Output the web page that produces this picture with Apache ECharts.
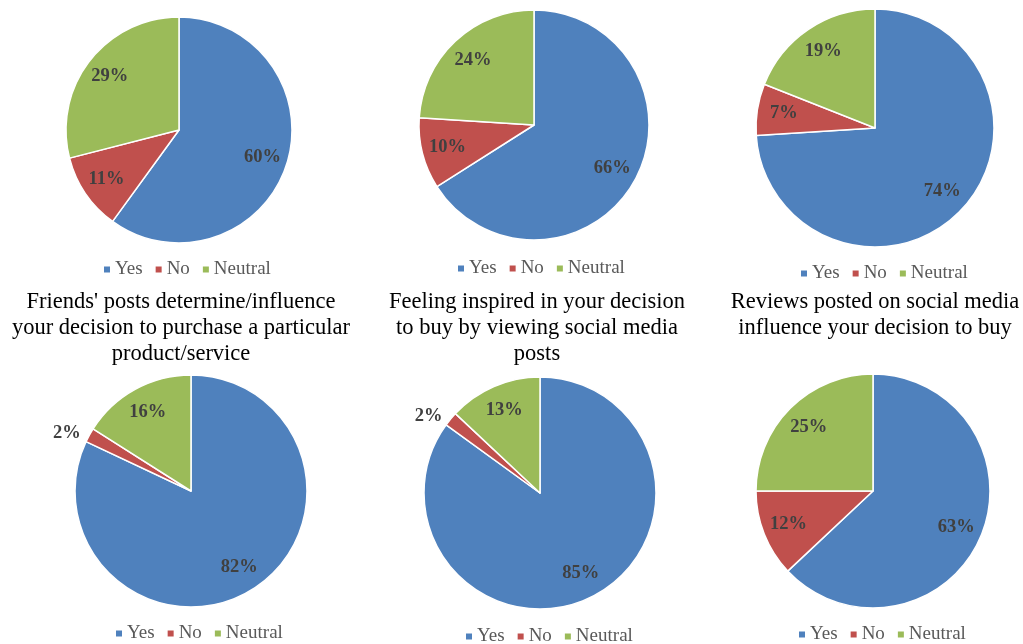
<!DOCTYPE html>
<html>
<head>
<meta charset="utf-8">
<script src="https://cdn.jsdelivr.net/npm/echarts@6/dist/echarts.min.js"></script>
<style>html,body{margin:0;padding:0;background:#fff}#c{width:1023px;height:644px}</style>
</head>
<body>
<div id="c"></div>
<script>
// ---- data ----
const categories = ['Yes', 'No', 'Neutral'];
const friendsPosts = [60, 11, 29];
const feelingInspired = [66, 10, 24];
const reviewsPosted = [74, 7, 19];
const pie4Values = [82, 2, 16];
const pie5Values = [85, 2, 13];
const pie6Values = [63, 12, 25];
const titleTexts = [
  "Friends' posts determine/influence\nyour decision to purchase a particular\nproduct/service",
  "Feeling inspired in your decision\nto buy by viewing social media\nposts",
  "Reviews posted on social media\ninfluence your decision to buy"
];

// ---- layout / style ----
const colors = ['#4F81BD', '#C0504D', '#9BBB59'];
const pieValues = [friendsPosts, feelingInspired, reviewsPosted, pie4Values, pie5Values, pie6Values];
const centers = [[179, 130], [534, 125], [875, 128], [191, 491], [540, 493], [873, 491]];
const radii = [113, 115, 119, 116, 116, 117];
const legendCenters = [[187, 269], [541, 268], [884, 273], [199, 633], [549, 636], [882, 634]];
const titleCenters = [181, 537, 875];
const serif = "'Liberation Serif', 'Times New Roman', serif";
const labelStyle = { color: '#404040', fontFamily: serif, fontSize: 18.5, fontWeight: 'bold' };

const series = [];
pieValues.forEach((vals, i) => {
  const r = radii[i];
  // main pie (small slices carry their own outside label)
  series.push({
    type: 'pie', center: centers[i], radius: [0, r], startAngle: 90, clockwise: true,
    avoidLabelOverlap: false, silent: true,
    itemStyle: { borderColor: '#fff', borderWidth: 1.5 },
    data: vals.map((v, k) => ({
      name: categories[k], value: v,
      itemStyle: { color: colors[k] },
      label: v < 5 ? Object.assign({ show: true, position: 'outside', formatter: '{c}%' }, labelStyle) : { show: false },
      labelLine: { show: false, length: 4, length2: 0 }
    })),
    labelLine: { show: false, length: 4, length2: 0 }
  });
  // label carrier (transparent), places inside labels at ~0.75r
  series.push({
    type: 'pie', center: centers[i], radius: [0, r * 1.5], startAngle: 90, clockwise: true,
    avoidLabelOverlap: false, silent: true, z: 5,
    itemStyle: { color: 'rgba(0,0,0,0)', borderWidth: 0 },
    emphasis: { disabled: true },
    label: Object.assign({ show: true, position: 'inside', formatter: '{c}%' }, labelStyle),
    labelLine: { show: false },
    data: vals.map((v, k) => ({
      name: categories[k], value: v,
      itemStyle: { color: 'rgba(0,0,0,0)' },
      label: { show: v >= 5 }
    }))
  });
});

const legends = legendCenters.map(c => ({
  data: categories,
  left: c[0] - 85, top: c[1] - 9,
  orient: 'horizontal', padding: 0,
  icon: 'rect', itemWidth: 8, itemHeight: 8, itemGap: 11,
  textStyle: { fontFamily: serif, fontSize: 19, color: '#595959', padding: [0, 0, 0, -1] },
  selectedMode: false
}));

const titles = titleTexts.map((t, i) => ({
  text: t, left: titleCenters[i], top: 289, textAlign: 'center', padding: 0,
  textStyle: { fontFamily: serif, fontSize: 22.5, fontWeight: 'normal', color: '#000', lineHeight: 26 }
}));

const chart = echarts.init(document.getElementById('c'), null, { renderer: 'canvas' });
chart.setOption({
  backgroundColor: '#fff',
  animation: false,
  color: colors,
  title: titles,
  legend: legends,
  series: series
});
</script>
</body>
</html>
